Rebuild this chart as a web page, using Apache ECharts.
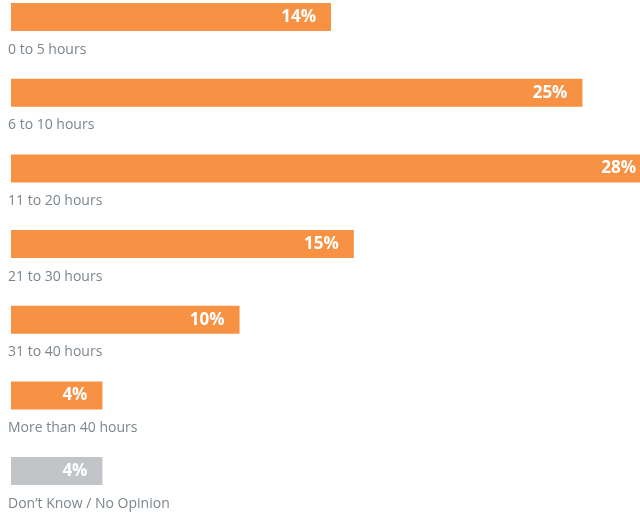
<!DOCTYPE html>
<html><head><meta charset="utf-8">
<script src="https://cdn.jsdelivr.net/npm/echarts@6/dist/echarts.min.js"></script>
<style>html,body{margin:0;padding:0;background:#fff}#c{width:640px;height:515px}</style>
</head><body><div id="c"></div>
<script>
const categories = ['0 to 5 hours','6 to 10 hours','11 to 20 hours','21 to 30 hours','31 to 40 hours','More than 40 hours','Don\u2019t Know / No Opinion'];
const values = [14, 25, 28, 15, 10, 4, 4];
const barColors = ['#f79244','#f79244','#f79244','#f79244','#f79244','#f79244','#c1c5c8'];

const chart = echarts.init(document.getElementById('c'), null, {renderer:'canvas'});
chart.setOption({
  animation:false,
  grid:{left:11, width:640, top:-20.8, height:529.7, containLabel:false, outerBoundsMode:'none'},
  xAxis:{type:'value', min:0, max:28, show:false},
  yAxis:{type:'category', data:categories, inverse:true,
    axisLine:{show:false}, axisTick:{show:false}, splitLine:{show:false},
    axisLabel:{inside:true, margin:-3, align:'left', verticalAlign:'top', padding:[25.5,0,0,0],
      color:'#7d868d', fontSize:14, fontFamily:'Open Sans'}},
  series:[{type:'bar', barWidth:28, clip:false,
    data: values.map((v,i)=>({value:v, itemStyle:{color:barColors[i]}})),
    label:{show:true, position:'insideRight', distance:15, formatter:'{c}%', color:'#fff',
      fontWeight:'bold', fontSize:17, fontFamily:'Open Sans'}}]
});
</script></body></html>
